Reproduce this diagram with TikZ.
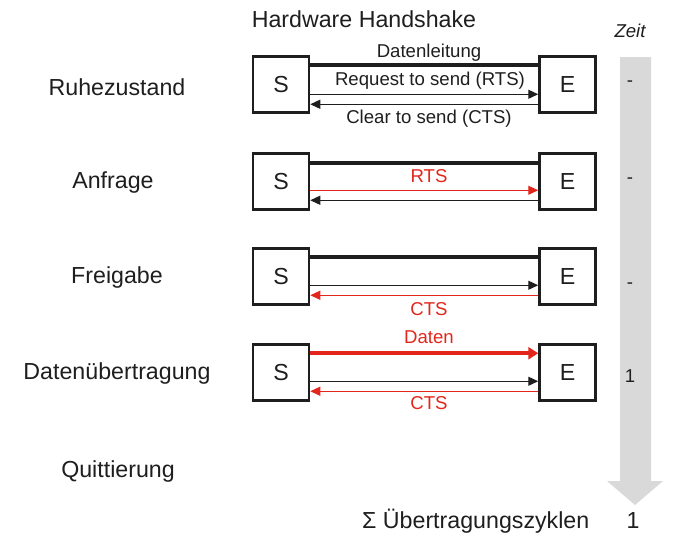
\documentclass[tikz,border=0pt]{standalone}
\usepackage{fontspec}
\setmainfont{Liberation Sans}
\usetikzlibrary{arrows.meta}
\definecolor{hsred}{RGB}{226,38,28}
\definecolor{hsgray}{RGB}{217,217,217}
\definecolor{hstext}{RGB}{30,30,30}
\begin{document}
\begin{tikzpicture}[x=1pt,y=-1pt,
  bigtxt/.style={font=\fontsize{23.2}{27}\selectfont, text=hstext, inner sep=0pt, anchor=base},
  smalltxt/.style={font=\fontsize{18.6}{22}\selectfont, text=hstext, inner sep=0pt, anchor=base},
  redtxt/.style={smalltxt, text=hsred},
  stbox/.style={draw=hstext, line width=2.5pt, minimum width=56pt, minimum height=56pt, inner sep=0pt,
     font=\fontsize{23.2}{27}\selectfont, text=hstext},
  dataline/.style={draw=hstext, line width=4pt},
  sig/.style={draw=hstext, line width=1.3pt, -{Triangle[length=10pt,width=9pt]}},
  redsig/.style={draw=hsred, line width=1.3pt, -{Triangle[length=10pt,width=9pt]}},
  reddata/.style={draw=hsred, line width=4pt, -{Triangle[length=10pt,width=12pt]}},
]
\useasboundingbox (0,0) rectangle (675,542);

% time arrow
\fill[hsgray] (620,57) -- (651,57) -- (651,481) -- (663,481) -- (635,505) -- (607,481) -- (620,481) -- cycle;
\node[font=\fontsize{18.6}{22}\selectfont\itshape, text=hstext, inner sep=0pt, anchor=base] (zeit) at (630,37) {Zeit};
\node[smalltxt] (t1) at (630,86) {-};
\node[smalltxt] (t2) at (630,183) {-};
\node[smalltxt] (t3) at (630,288) {-};
\node[smalltxt] (t4) at (630,382) {1};

% title
\node[bigtxt] (title) at (364,27) {Hardware Handshake};

% left labels
\node[bigtxt] (l1) at (117,95) {Ruhezustand};
\node[bigtxt] (l2) at (113,188) {Anfrage};
\node[bigtxt] (l3) at (117,283) {Freigabe};
\node[bigtxt] (l4) at (117,379) {Datenübertragung};
\node[bigtxt] (l5) at (118,477) {Quittierung};

% boxes
\node[stbox] (S1) at (281,84.5) {S};
\node[stbox] (E1) at (567.5,84.5) {E};
\node[stbox] (S2) at (281,181.5) {S};
\node[stbox] (E2) at (567.5,181.5) {E};
\node[stbox] (S3) at (281,276.5) {S};
\node[stbox] (E3) at (567.5,276.5) {E};
\node[stbox] (S4) at (281,372.5) {S};
\node[stbox] (E4) at (567.5,372.5) {E};

% row 1
\draw[dataline] ([yshift=-10pt]S1.north east) -- ([yshift=-10pt]E1.north west);
\draw[sig] ([yshift=-39pt]S1.north east) -- ([yshift=-39pt]E1.north west);
\draw[sig] ([yshift=-49pt]E1.north west) -- ([yshift=-49pt]S1.north east);
\node[smalltxt] (d1) at (429,57) {Datenleitung};
\node[smalltxt] (r1) at (430,85) {Request to send (RTS)};
\node[smalltxt] (c1) at (429,123) {Clear to send (CTS)};

% row 2
\draw[dataline] ([yshift=-11pt]S2.north east) -- ([yshift=-11pt]E2.north west);
\draw[redsig] ([yshift=-38pt]S2.north east) -- ([yshift=-38pt]E2.north west);
\draw[sig] ([yshift=-48pt]E2.north west) -- ([yshift=-48pt]S2.north east);
\node[redtxt] (r2) at (429,182) {RTS};

% row 3
\draw[dataline] ([yshift=-10pt]S3.north east) -- ([yshift=-10pt]E3.north west);
\draw[sig] ([yshift=-38pt]S3.north east) -- ([yshift=-38pt]E3.north west);
\draw[redsig] ([yshift=-48pt]E3.north west) -- ([yshift=-48pt]S3.north east);
\node[redtxt] (c3) at (429,315) {CTS};

% row 4
\draw[reddata] ([yshift=-10pt]S4.north east) -- ([yshift=-10pt]E4.north west);
\draw[sig] ([yshift=-38pt]S4.north east) -- ([yshift=-38pt]E4.north west);
\draw[redsig] ([yshift=-48pt]E4.north west) -- ([yshift=-48pt]S4.north east);
\node[redtxt] (d4) at (429,343) {Daten};
\node[redtxt] (c4) at (429,409) {CTS};

% sum
\node[bigtxt, anchor=base west] (sum) at (362,528) {Σ Übertragungszyklen};
\node[bigtxt] (sumv) at (633,528) {1};
\end{tikzpicture}
\end{document}
